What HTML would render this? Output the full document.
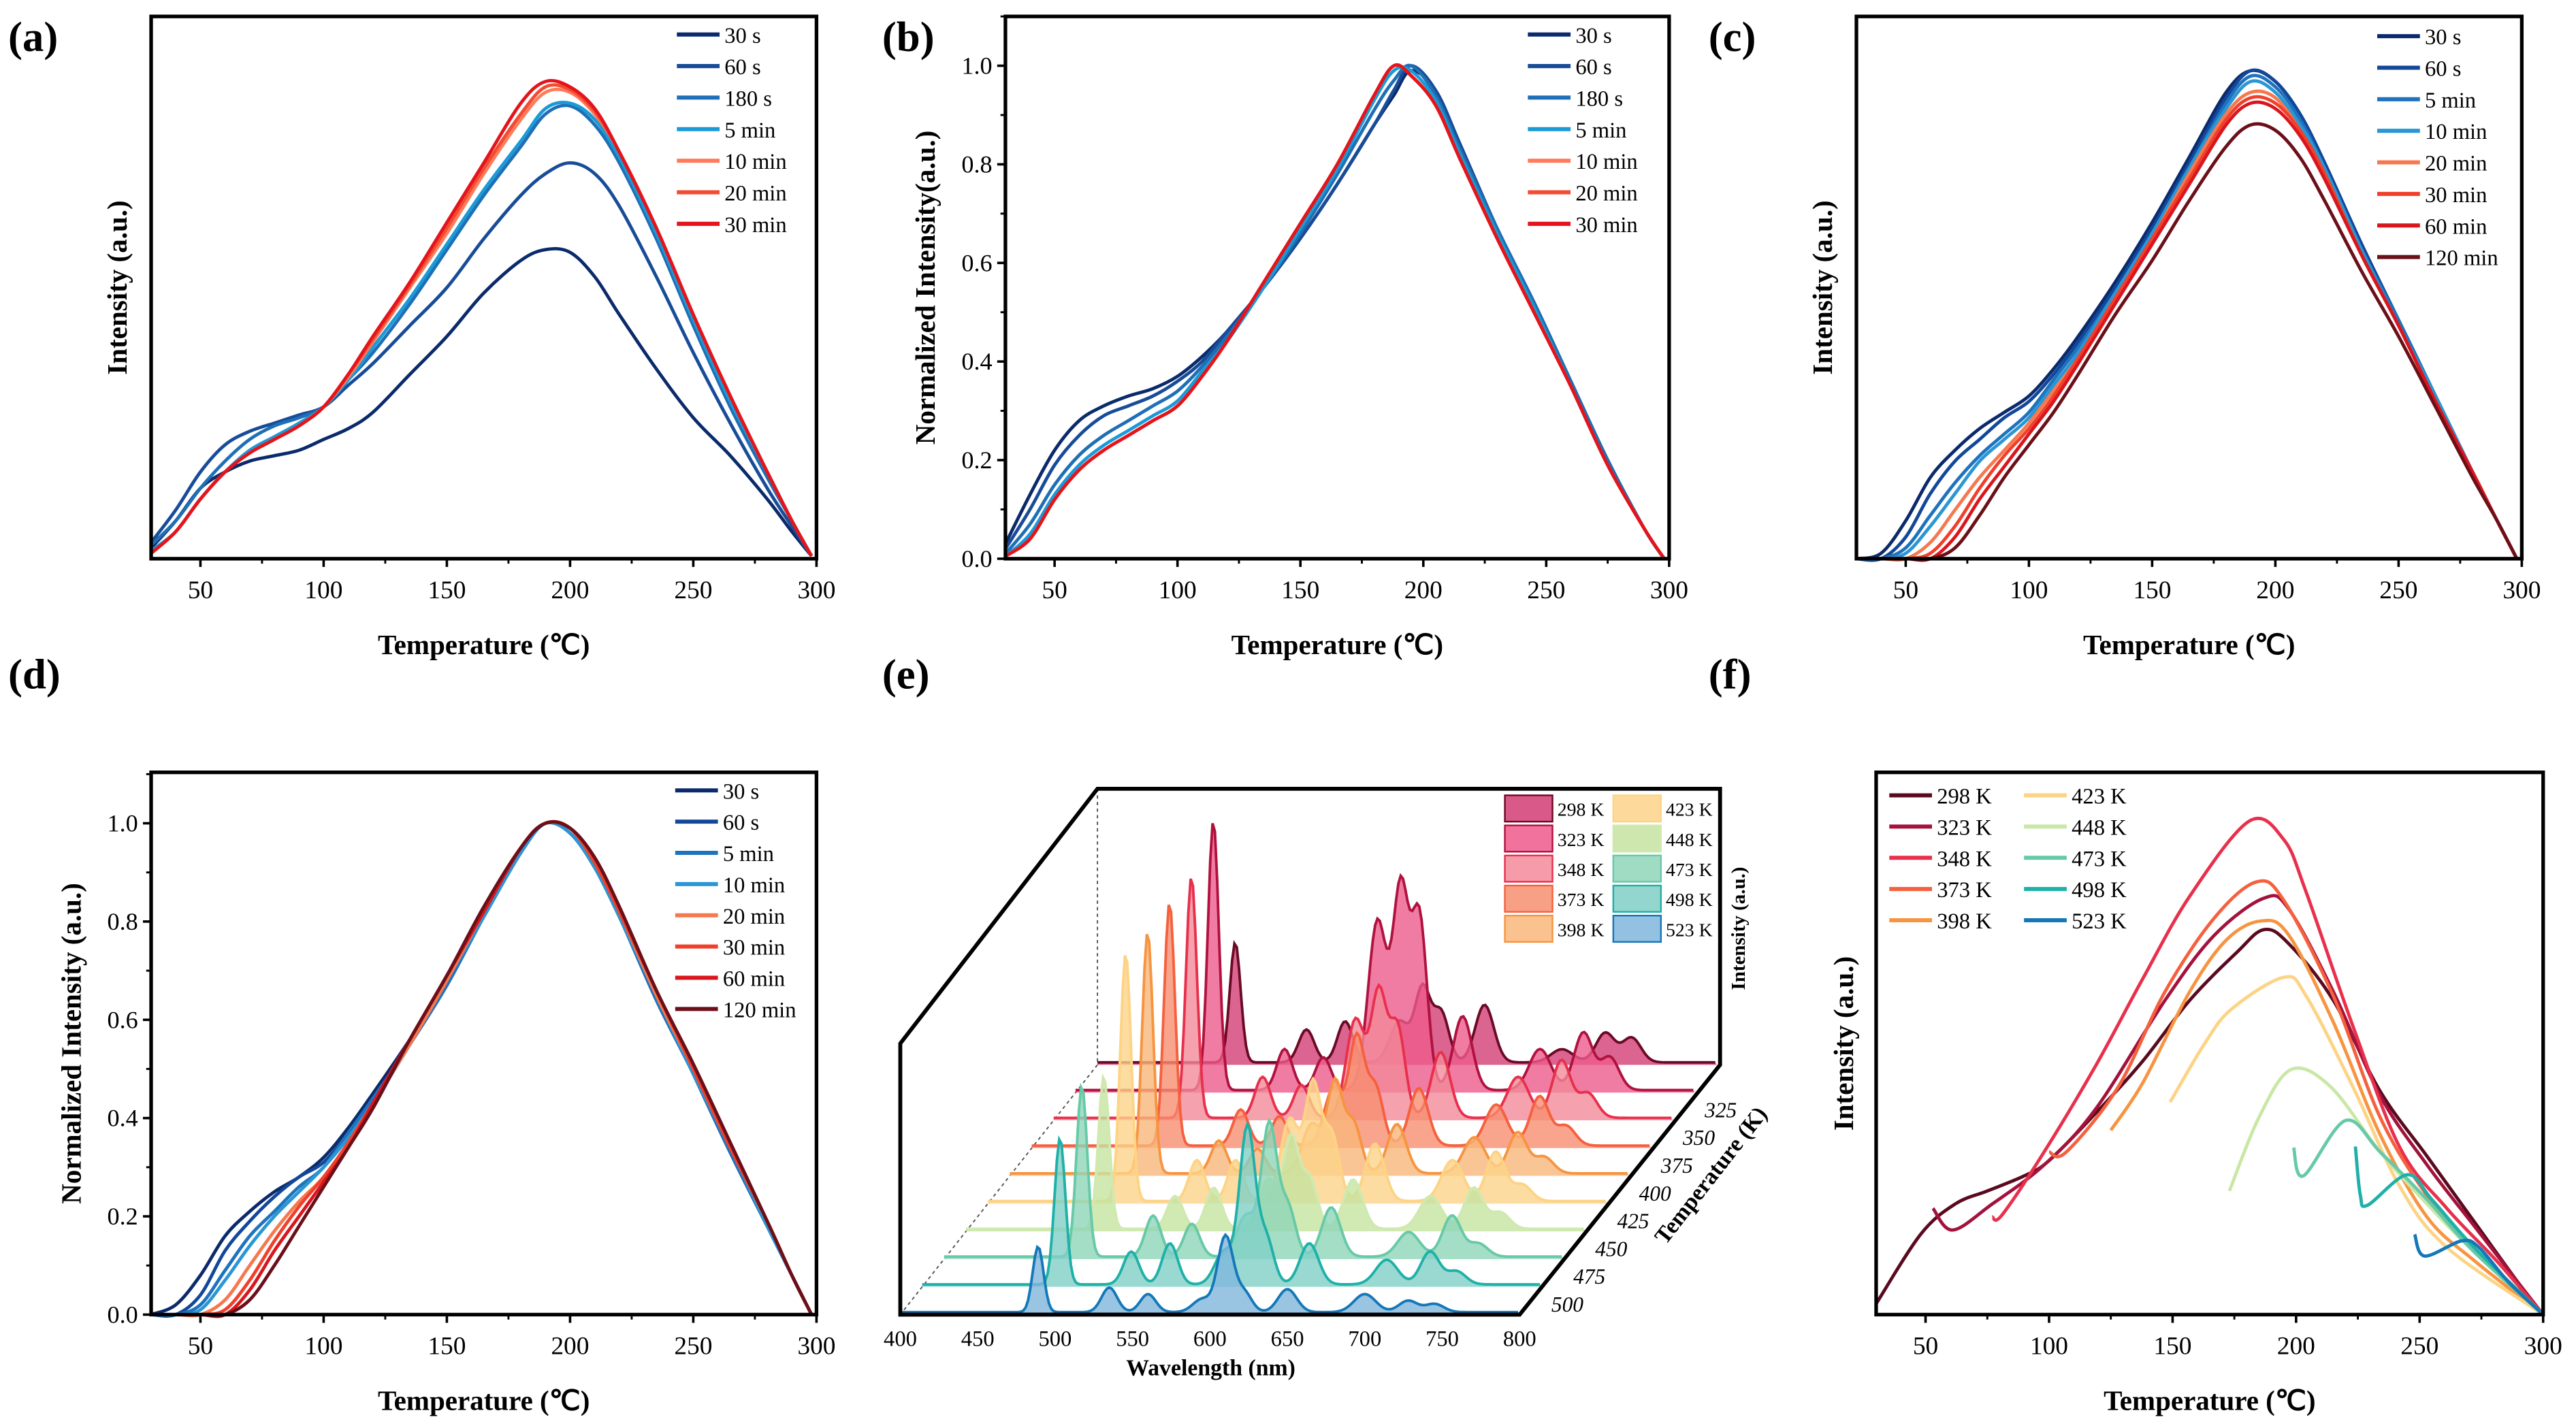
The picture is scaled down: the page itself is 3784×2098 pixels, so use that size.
<!DOCTYPE html>
<html><head><meta charset="utf-8"><style>
html,body{margin:0;padding:0;background:#fff;}
svg{display:block;}
text{font-family:"Liberation Serif",serif;fill:#000;}
.b{font-weight:bold;}
</style></head><body>
<svg id="fig" xmlns="http://www.w3.org/2000/svg" width="3784" height="2098" viewBox="0 0 1568 869" preserveAspectRatio="none"></svg>
<script>
// ---------- DATA ----------
const tempTicks = [50,100,150,200,250,300];
const normTicks = [0.0,0.2,0.4,0.6,0.8,1.0];

// panel a
const aTemps = [30,40,50,60,70,80,90,100,110,120,135,150,165,180,190,200,210,220,235,250,265,280,290,298];
const aLabels = ['30 s','60 s','180 s','5 min','10 min','20 min','30 min'];
const a30s  = [.02,.07,.13,.16,.18,.19,.20,.22,.24,.27,.34,.41,.49,.55,.57,.565,.52,.45,.35,.26,.19,.11,.05,.005];
const a60s  = [.03,.09,.16,.21,.235,.25,.265,.28,.32,.36,.43,.50,.59,.67,.71,.73,.71,.65,.52,.38,.25,.13,.06,.005];
const a180s = [.025,.07,.13,.18,.22,.245,.26,.28,.33,.38,.47,.57,.67,.76,.82,.835,.80,.73,.59,.43,.28,.15,.07,.005];
const a5m   = [.015,.05,.11,.16,.20,.225,.25,.28,.33,.39,.48,.58,.68,.77,.83,.84,.81,.74,.60,.44,.29,.16,.07,.005];
const a10m  = [.01,.05,.11,.16,.195,.22,.245,.28,.335,.40,.50,.60,.71,.81,.86,.86,.82,.75,.61,.45,.30,.16,.07,.005];
const a20m  = [.01,.05,.11,.16,.195,.22,.245,.28,.34,.405,.505,.61,.72,.82,.87,.865,.825,.75,.61,.45,.30,.16,.07,.005];
const a30m  = [.01,.05,.11,.16,.195,.22,.245,.28,.34,.41,.51,.62,.73,.84,.88,.87,.83,.75,.61,.45,.30,.16,.07,.005];

// panel b
const bTemps = [30,40,50,60,70,80,90,100,110,120,135,150,165,180,188,195,205,215,230,245,260,275,290,298];
const b30s  = [.03,.13,.22,.28,.31,.33,.345,.37,.41,.46,.55,.65,.76,.88,.94,.99,.95,.84,.67,.52,.36,.20,.06,0];
const b60s  = [.02,.10,.19,.25,.29,.31,.33,.36,.40,.46,.55,.65,.76,.88,.95,1.0,.95,.84,.67,.52,.36,.20,.06,0];
const b180s = [.01,.07,.15,.21,.25,.28,.31,.34,.39,.45,.55,.66,.78,.91,.97,1.0,.94,.83,.67,.52,.36,.20,.06,0];
const b5m   = [.005,.05,.13,.19,.23,.26,.29,.32,.38,.44,.55,.67,.79,.93,.99,.99,.93,.82,.66,.51,.35,.19,.06,0];
const b10m  = [.005,.04,.12,.18,.22,.25,.28,.31,.37,.44,.56,.68,.80,.94,1.0,.98,.92,.81,.65,.50,.35,.19,.06,0];
const b20m  = [.005,.04,.12,.18,.22,.25,.28,.31,.37,.44,.56,.68,.80,.94,1.0,.98,.92,.81,.65,.50,.35,.19,.06,0];
const b30m  = [.005,.04,.12,.18,.22,.25,.28,.31,.37,.44,.56,.68,.80,.94,1.0,.98,.92,.81,.65,.50,.35,.19,.06,0];

// panel c
const cTemps = [30,40,50,60,70,80,90,100,110,120,135,150,165,180,190,200,210,220,235,250,265,280,290,298];
const cLabels = ['30 s','60 s','5 min','10 min','20 min','30 min','60 min','120 min'];
const c30s  = [0,.01,.07,.15,.20,.24,.27,.30,.35,.41,.51,.62,.74,.86,.90,.88,.82,.73,.58,.44,.30,.16,.07,0];
const c60s  = [0,0,.04,.12,.18,.22,.26,.29,.34,.40,.50,.61,.73,.85,.90,.88,.82,.73,.58,.44,.30,.16,.07,0];
const c5m   = [0,0,.02,.08,.14,.19,.23,.27,.33,.39,.49,.60,.72,.84,.89,.87,.81,.72,.57,.44,.30,.16,.07,0];
const c10m  = [0,0,.01,.06,.12,.18,.22,.26,.32,.38,.49,.60,.72,.83,.88,.86,.80,.72,.57,.43,.30,.16,.07,0];
const c20m  = [0,0,0,.03,.09,.15,.20,.25,.31,.37,.48,.59,.71,.82,.86,.85,.79,.71,.56,.43,.29,.16,.07,0];
const c30m  = [0,0,0,.01,.06,.13,.19,.24,.30,.37,.48,.59,.70,.81,.85,.84,.79,.71,.56,.43,.29,.16,.07,0];
const c60m  = [0,0,0,0,.04,.11,.17,.23,.29,.36,.47,.58,.69,.80,.84,.83,.78,.70,.56,.43,.29,.16,.07,0];
const c120m = [0,0,0,0,.02,.08,.15,.21,.27,.34,.45,.55,.66,.76,.80,.79,.74,.66,.53,.41,.28,.15,.07,0];

// panel d
const dTemps = [30,40,50,60,70,80,90,100,110,120,135,150,165,180,190,200,210,220,235,250,265,280,290,298];
const d30s  = [0,.02,.08,.16,.21,.25,.28,.32,.38,.45,.56,.68,.82,.95,1.0,.98,.91,.81,.65,.49,.33,.18,.08,0];
const d60s  = [0,0,.04,.13,.19,.24,.28,.31,.37,.44,.55,.68,.81,.94,1.0,.98,.91,.81,.65,.49,.33,.18,.08,0];
const d5m   = [0,0,.02,.09,.16,.21,.26,.30,.37,.44,.55,.67,.81,.94,1.0,.98,.91,.81,.64,.49,.33,.18,.08,0];
const d10m  = [0,0,.01,.07,.14,.20,.25,.30,.36,.43,.55,.68,.81,.94,1.0,.98,.91,.81,.65,.49,.34,.18,.08,0];
const d20m  = [0,0,0,.03,.10,.17,.23,.28,.35,.43,.55,.68,.82,.95,1.0,.99,.92,.82,.65,.50,.34,.19,.08,0];
const d30m  = [0,0,0,.01,.07,.15,.22,.28,.35,.43,.56,.69,.82,.95,1.0,.99,.92,.82,.66,.50,.34,.19,.08,0];
const d60m  = [0,0,0,0,.05,.13,.20,.27,.34,.43,.56,.69,.82,.95,1.0,.99,.93,.83,.66,.51,.35,.19,.08,0];
const d120m = [0,0,0,0,.03,.10,.18,.26,.34,.42,.56,.69,.83,.95,1.0,.99,.93,.83,.66,.51,.35,.19,.08,0];

// panel e
const eWavelengths = [489,535,560,595,610,622,650,700,728,745];
const eTickLabels = [400,450,500,550,600,650,700,750,800];
const eTempTicks = [325,350,375,400,425,450,475,500];
const eLabels = ['298 K','323 K','348 K','373 K','398 K','423 K','448 K','473 K','498 K','523 K'];
const e298 = [73,20,25,25,45,30,35,8,18,15];
const e323 = [164,25,20,103,120,105,45,25,35,20];
const e348 = [147,25,20,60,75,55,40,25,35,15];
const e373 = [148,22,18,35,65,35,35,25,30,12];
const e398 = [147,20,15,30,55,30,30,22,25,10];
const e423 = [151,25,25,50,70,40,35,25,30,10];
const e448 = [93,20,25,30,55,30,30,20,25,10];
const e473 = [104,25,20,25,80,30,30,15,25,8];
const e498 = [89,20,25,20,95,28,25,15,20,8];
const e523 = [40,15,11,8,46,12,14,11,7,5];

// panel f
const fLabels = ['298 K','323 K','348 K','373 K','398 K','423 K','448 K','473 K','498 K','523 K'];
const f298T = [30,48,62,75,90,100,119,138,157,176,187,197,215,234,253,272,291,300];
const f298V = [.02,.148,.204,.228,.256,.284,.372,.468,.58,.668,.71,.684,.58,.412,.292,.172,.052,0];
const f323T = [53,61,77,98,119,147,167,187,197,215,234,253,272,300];
const f323V = [.196,.156,.204,.276,.38,.58,.70,.768,.748,.596,.404,.276,.164,0];
const f348T = [77,81,98,119,138,157,181,195,204,223,242,261,281,300];
const f348V = [.18,.184,.30,.46,.62,.772,.91,.876,.78,.532,.308,.196,.10,0];
const f373T = [100,107,128,147,167,184,195,215,234,253,272,300];
const f373V = [.30,.30,.42,.596,.732,.798,.764,.588,.364,.22,.124,0];
const f398T = [125,138,157,172,186,197,215,234,253,272,300];
const f398V = [.34,.428,.596,.692,.726,.70,.54,.332,.18,.10,0];
const f423T = [149,163,174,195,204,223,242,261,300];
const f423V = [.392,.50,.564,.622,.588,.42,.236,.124,0];
const f448T = [173,185,198,214,234,253,272,300];
const f448V = [.228,.364,.452,.42,.30,.204,.116,0];
const f473T = [199,203,220,234,253,272,300];
const f473V = [.308,.256,.358,.30,.212,.116,0];
const f498T = [224,226,229,245,255,272,300];
const f498V = [.31,.22,.202,.258,.212,.124,0];
const f523T = [248,252,267,274,286,300];
const f523V = [.148,.108,.136,.124,.06,0];

// ---------- DRAWING ----------
const NS='http://www.w3.org/2000/svg';
const svg=document.getElementById('fig');
function mk(tag,attrs,parent){const e=document.createElementNS(NS,tag);for(const k in attrs)e.setAttribute(k,attrs[k]);(parent||svg).appendChild(e);return e;}
function txt(s,x,y,size,parent,extra){const t=mk('text',Object.assign({x:x,y:y,'font-size':size},extra||{}),parent);t.textContent=s;return t;}
function smooth(pts){
  if(pts.length<2)return '';
  let d='M'+pts[0][0].toFixed(2)+','+pts[0][1].toFixed(2);
  for(let i=0;i<pts.length-1;i++){
    const p0=pts[i-1]||pts[i],p1=pts[i],p2=pts[i+1],p3=pts[i+2]||p2;
    const c1=[p1[0]+(p2[0]-p0[0])/6,p1[1]+(p2[1]-p0[1])/6];
    const c2=[p2[0]-(p3[0]-p1[0])/6,p2[1]-(p3[1]-p1[1])/6];
    d+=' C'+c1[0].toFixed(2)+','+c1[1].toFixed(2)+' '+c2[0].toFixed(2)+','+c2[1].toFixed(2)+' '+p2[0].toFixed(2)+','+p2[1].toFixed(2);
  }
  return d;
}
function panel(P){
  const g=mk('g',{});
  
  
  const xS=t=>P.x0+(t-30)*(P.x1-P.x0)/270;
  const yS=v=>P.y1-v*P.ppu;
  P.series.forEach(s=>{
    const pts=s.T.map((t,i)=>[xS(t),yS(s.V[i])]);
    const p=mk('path',{d:smooth(pts),fill:'none',stroke:s.c,'stroke-width':2,'stroke-linejoin':'round'},g);
    
    
  });
  const fr=mk('rect',{x:P.x0,y:P.y0,width:P.x1-P.x0,height:P.y1-P.y0,fill:'none',stroke:'#000','stroke-width':2.2},g);
  
  
  tempTicks.forEach(t=>{
    mk('line',{x1:xS(t),x2:xS(t),y1:P.y1,y2:P.y1+5,stroke:'#000','stroke-width':1.5},g);
    const l=txt(String(t),xS(t),P.y1+24,15.5,g,{'text-anchor':'middle'});
    
    
    if(t<300) mk('line',{x1:xS(t+25),x2:xS(t+25),y1:P.y1,y2:P.y1+3,stroke:'#000','stroke-width':1.2},g);
  });
  const xt=txt('Temperature (\u2103)',(P.x0+P.x1)/2,P.y1+58,17,g,{'text-anchor':'middle','class':'b'});
  
  
  if(P.norm){
    normTicks.forEach(v=>{
      mk('line',{x1:P.x0-5,x2:P.x0,y1:yS(v),y2:yS(v),stroke:'#000','stroke-width':1.5},g);
      const l=txt(v.toFixed(1),P.x0-8,yS(v)+5,15,g,{'text-anchor':'end'});
      
      
      mk('line',{x1:P.x0-3,x2:P.x0,y1:yS(v+0.1),y2:yS(v+0.1),stroke:'#000','stroke-width':1.2},g);
    });
  }
  const yt=txt(P.ytitle,0,0,17,g,{'text-anchor':'middle','class':'b',transform:'translate('+P.ytx+','+((P.y0+P.y1)/2)+') rotate(-90)'});
  
  
  const colw=P.lcolw||0;
  P.series.forEach((s,i)=>{
    const col=P.legCols?Math.floor(i/5):0,row=P.legCols?i%5:i;
    const lx=P.lx+col*colw,ly=P.ly+row*P.lsp;
    const lg=mk('g',{},g);
    
    
    mk('line',{x1:lx,x2:lx+26,y1:ly,y2:ly,stroke:s.c,'stroke-width':2.5},lg);
    txt(s.l,lx+29,ly+5,13.5,lg);
  });
  const pl=txt(P.tag,P.tx,P.ty,26,g,{'class':'b'});
  
  
}
const ac=['#0b2a6b','#184c98','#1e6fb5','#1a9ad6','#ff7b5a','#f34a32','#e3141c'];
const cc=['#0b2a6b','#12479a','#1e73be','#2a96d4','#f6784e','#f0402c','#d9161d','#6b0f18'];
const aV=[a30s,a60s,a180s,a5m,a10m,a20m,a30m];
const bV=[b30s,b60s,b180s,b5m,b10m,b20m,b30m];
const cV=[c30s,c60s,c5m,c10m,c20m,c30m,c60m,c120m];
const dV=[d30s,d60s,d5m,d10m,d20m,d30m,d60m,d120m];
panel({name:'panel-a',tag:'(a)',tx:5,ty:31,x0:92,x1:497,y0:10,y1:340,ppu:330,ytitle:'Intensity (a.u.)',ytx:77,
  series:aV.map((v,i)=>({T:aTemps,V:v,c:ac[i],l:aLabels[i]})),lx:412,ly:21,lsp:19.2});
panel({name:'panel-b',tag:'(b)',tx:537,ty:31,x0:612,x1:1016,y0:10,y1:340,ppu:300,norm:true,ytitle:'Normalized Intensity(a.u.)',ytx:569,
  series:bV.map((v,i)=>({T:bTemps,V:v,c:ac[i],l:aLabels[i]})),lx:930,ly:21,lsp:19.2});
panel({name:'panel-c',tag:'(c)',tx:1040,ty:31,x0:1130,x1:1535,y0:10,y1:340,ppu:330,ytitle:'Intensity (a.u.)',ytx:1115,
  series:cV.map((v,i)=>({T:cTemps,V:v,c:cc[i],l:cLabels[i]})),lx:1447,ly:22,lsp:19.2});
panel({name:'panel-d',tag:'(d)',tx:5,ty:419,x0:92,x1:497,y0:470,y1:800,ppu:299,norm:true,ytitle:'Normalized Intensity (a.u.)',ytx:49,
  series:dV.map((v,i)=>({T:dTemps,V:v,c:cc[i],l:cLabels[i]})),lx:411,ly:481,lsp:19});
const fc=['#5a0a1e','#a3123c','#e8304c','#f5603e','#f79440','#fdd385','#c9e7a6','#67c9a8','#1fb0a8','#1478b8'];
const fT=[f298T,f323T,f348T,f373T,f398T,f423T,f448T,f473T,f498T,f523T];
const fV=[f298V,f323V,f348V,f373V,f398V,f423V,f448V,f473V,f498V,f523V];
panel({name:'panel-f',tag:'(f)',tx:1040,ty:419,x0:1142,x1:1548,y0:470,y1:800,ppu:330,ytitle:'Intensity (a.u.)',ytx:1128,
  series:fV.map((v,i)=>({T:fT[i],V:v,c:fc[i],l:fLabels[i]})),legCols:true,lx:1150,lcolw:82,ly:484,lsp:19});

// ---------- PANEL E ----------
(function(){
  const g=mk('g',{});
  
  
  const eH=[e298,e323,e348,e373,e398,e423,e448,e473,e498,e523];
  const eFill=['#d23d74','#ee5b8c','#f3899a','#f78f70','#f9b77a','#fdd38a','#c5e3a0','#8fd6b8','#7fcfc6','#7fb6dc'];
  const eLine=['#6b0a24','#b0123f','#e8304c','#f5603e','#f79440','#fdd385','#cfe9b0','#67c9a8','#1fb0a8','#1478b8'];
  const sig=[3.5,5,5,6,5,5,6,7,6,6];
  const pxnm=377/400, dx=-120/9, dy=152/9;
  const xE=(w,i)=>668+i*dx+(w-400)*pxnm;
  const yE=(v,i)=>648+i*dy-v;
  mk('line',{x1:668,y1:480,x2:668,y2:648,stroke:'#555','stroke-width':0.8,'stroke-dasharray':'2,2'},g);
  mk('line',{x1:668,y1:648,x2:548,y2:800,stroke:'#555','stroke-width':0.8,'stroke-dasharray':'2,2'},g);
  for(let i=0;i<10;i++){
    const h=eH[i];const pts=[];
    for(let w=400;w<=800;w+=1.5){
      let v=1.5;
      for(let k=0;k<eWavelengths.length;k++){const d=w-eWavelengths[k];v+=h[k]*Math.exp(-d*d/(2*sig[k]*sig[k]));}
      pts.push([xE(w,i),yE(v,i)]);
    }
    let d='M'+xE(400,i)+','+yE(0,i);
    pts.forEach(p=>d+=' L'+p[0].toFixed(2)+','+p[1].toFixed(2));
    d+=' L'+xE(800,i)+','+yE(0,i)+' Z';
    const a=mk('path',{d:d,fill:eFill[i],'fill-opacity':0.8,stroke:'none'},g);
    
    
    let dl='M'+pts.map(p=>p[0].toFixed(2)+','+p[1].toFixed(2)).join(' L');
    const l=mk('path',{d:dl,fill:'none',stroke:eLine[i],'stroke-width':1.6},g);
    
    
  }
  const fr=mk('path',{d:'M548,800 L548,635 L668,480 L1047,480 L1047,648 L925,800 Z',fill:'none',stroke:'#000','stroke-width':2.4},g);
  
  
  eTickLabels.forEach(w=>{
    const l=txt(String(w),548+(w-400)*pxnm,819,13.5,g,{'text-anchor':'middle'});
    
    
  });
  const xt=txt('Wavelength (nm)',737,837,14,g,{'text-anchor':'middle','class':'b'});
  
  
  eTempTicks.forEach((t,j)=>{
    const i=j+1;
    const l=txt(String(t),xE(800,i)+6,yE(0,i)+15,13,g,{'font-style':'italic'});
    
    
  });
  const tt=txt('Temperature (K)',0,0,14,g,{'text-anchor':'middle','class':'b',transform:'translate(1045,718) rotate(-52)'});
  
  
  const it=txt('Intensity (a.u.)',0,0,12,g,{'text-anchor':'middle','class':'b',transform:'translate(1062,565) rotate(-90)'});
  
  
  for(let i=0;i<10;i++){
    const col=Math.floor(i/5),row=i%5;
    const bx=916+col*66,by=484+row*18.3;
    const lg=mk('g',{},g);
    
    
    mk('rect',{x:bx,y:by,width:29,height:16,fill:eFill[i],'fill-opacity':0.85,stroke:eLine[i],'stroke-width':1},lg);
    txt(eLabels[i],bx+32,by+12.5,11.5,lg);
  }
  const pl=txt('(e)',537,419,26,g,{'class':'b'});
  
  
})();
</script>
</body></html>
